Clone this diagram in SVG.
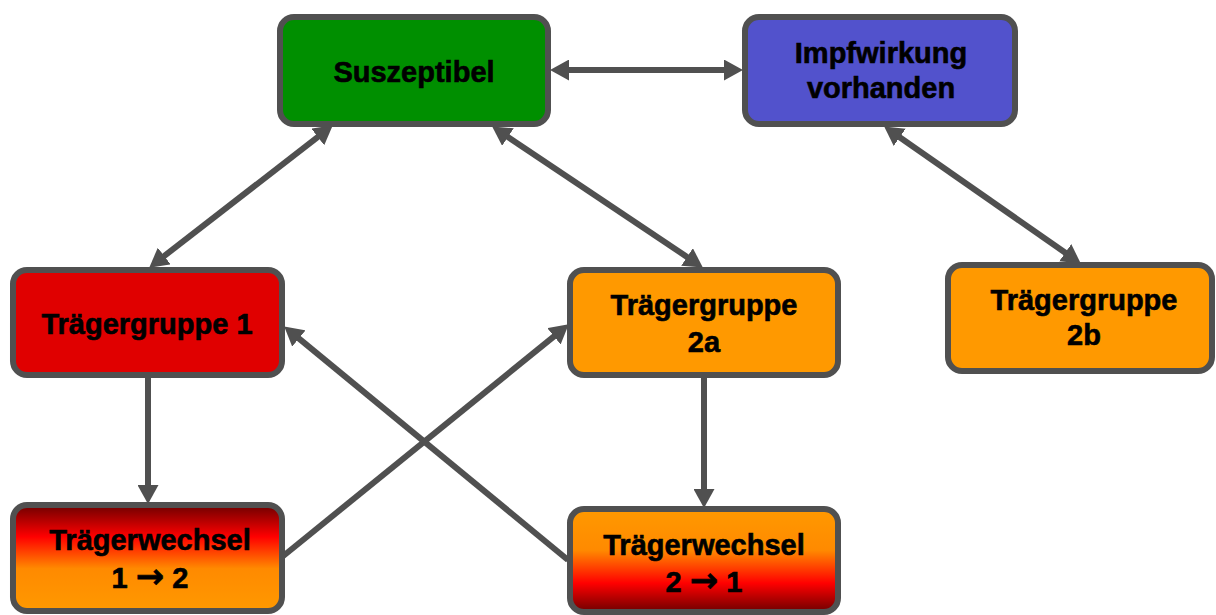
<svg xmlns="http://www.w3.org/2000/svg" width="1216" height="615" viewBox="0 0 1216 615">
  <style>
    .box { stroke: #505050; stroke-width: 6; }
    .lbl { font-family: "Liberation Sans", Arial, sans-serif; font-weight: bold; font-size: 29px; fill: #000; stroke: #000; stroke-width: 0.6; text-anchor: middle; }
    .arr { font-family: "DejaVu Sans", sans-serif; font-weight: bold; font-size: 34px; }
    .conn line { stroke: #505050; stroke-width: 6; fill: none; }
  </style>
  <defs>
    <marker id="head" viewBox="0 0 19 21" refX="8" refY="10.5" markerWidth="19" markerHeight="21" markerUnits="userSpaceOnUse" orient="auto-start-reverse">
      <path d="M0,0 L19,10.5 L0,21 Z" fill="#505050"/>
    </marker>
    <linearGradient id="gradDown" x1="0" y1="0" x2="0" y2="1">
      <stop offset="0" stop-color="#6e0000"/>
      <stop offset="0.3" stop-color="#ff0000"/>
      <stop offset="0.6" stop-color="#ff8a00"/>
      <stop offset="1" stop-color="#ff9900"/>
    </linearGradient>
    <linearGradient id="gradUp" x1="0" y1="0" x2="0" y2="1">
      <stop offset="0" stop-color="#ff9900"/>
      <stop offset="0.4" stop-color="#ff8a00"/>
      <stop offset="0.72" stop-color="#ff0000"/>
      <stop offset="1" stop-color="#6e0000"/>
    </linearGradient>
  </defs>
  <rect width="1216" height="615" fill="#ffffff"/>

  <g id="connectors" class="conn">
    <line x1="561" y1="70" x2="732" y2="70" marker-start="url(#head)" marker-end="url(#head)"/>
    <line x1="324.1" y1="132.1" x2="157.9" y2="260.9" marker-start="url(#head)" marker-end="url(#head)"/>
    <line x1="501.3" y1="132.6" x2="693.7" y2="261.4" marker-start="url(#head)" marker-end="url(#head)"/>
    <line x1="893.2" y1="132.7" x2="1071.8" y2="257.3" marker-start="url(#head)" marker-end="url(#head)"/>
    <line x1="148" y1="378" x2="148" y2="493" marker-end="url(#head)"/>
    <line x1="704" y1="377" x2="704" y2="497" marker-end="url(#head)"/>
    <line x1="282" y1="557" x2="560.2" y2="331.3" marker-end="url(#head)"/>
    <line x1="568" y1="560" x2="292.7" y2="333.4" marker-end="url(#head)"/>
  </g>

  <g id="suszeptibel">
    <rect class="box" x="280" y="17" width="268" height="107" rx="14" fill="#008f00"/>
    <text class="lbl" x="414" y="82">Suszeptibel</text>
  </g>

  <g id="impfwirkung">
    <rect class="box" x="745" y="17" width="270" height="107" rx="14" fill="#5252cc"/>
    <text class="lbl" x="881" y="63">Impfwirkung</text>
    <text class="lbl" x="881" y="98">vorhanden</text>
  </g>

  <g id="traegergruppe1">
    <rect class="box" x="13" y="270" width="269" height="105" rx="14" fill="#e00000"/>
    <text class="lbl" x="147" y="334">Trägergruppe 1</text>
  </g>

  <g id="traegergruppe2a">
    <rect class="box" x="570" y="270" width="268" height="105" rx="14" fill="#ff9900"/>
    <text class="lbl" x="704" y="315">Trägergruppe</text>
    <text class="lbl" x="704" y="352">2a</text>
  </g>

  <g id="traegergruppe2b">
    <rect class="box" x="948" y="265" width="264" height="106" rx="14" fill="#ff9900"/>
    <text class="lbl" x="1084" y="310">Trägergruppe</text>
    <text class="lbl" x="1084" y="345">2b</text>
  </g>

  <g id="traegerwechsel12">
    <rect class="box" x="13" y="505" width="269" height="106" rx="14" fill="url(#gradDown)"/>
    <text class="lbl" x="150" y="550">Trägerwechsel</text>
    <text class="lbl" x="150" y="588">1 <tspan class="arr">→</tspan> 2</text>
  </g>

  <g id="traegerwechsel21">
    <rect class="box" x="570" y="509" width="268" height="103" rx="14" fill="url(#gradUp)"/>
    <text class="lbl" x="704" y="555">Trägerwechsel</text>
    <text class="lbl" x="704" y="592">2 <tspan class="arr">→</tspan> 1</text>
  </g>
</svg>
